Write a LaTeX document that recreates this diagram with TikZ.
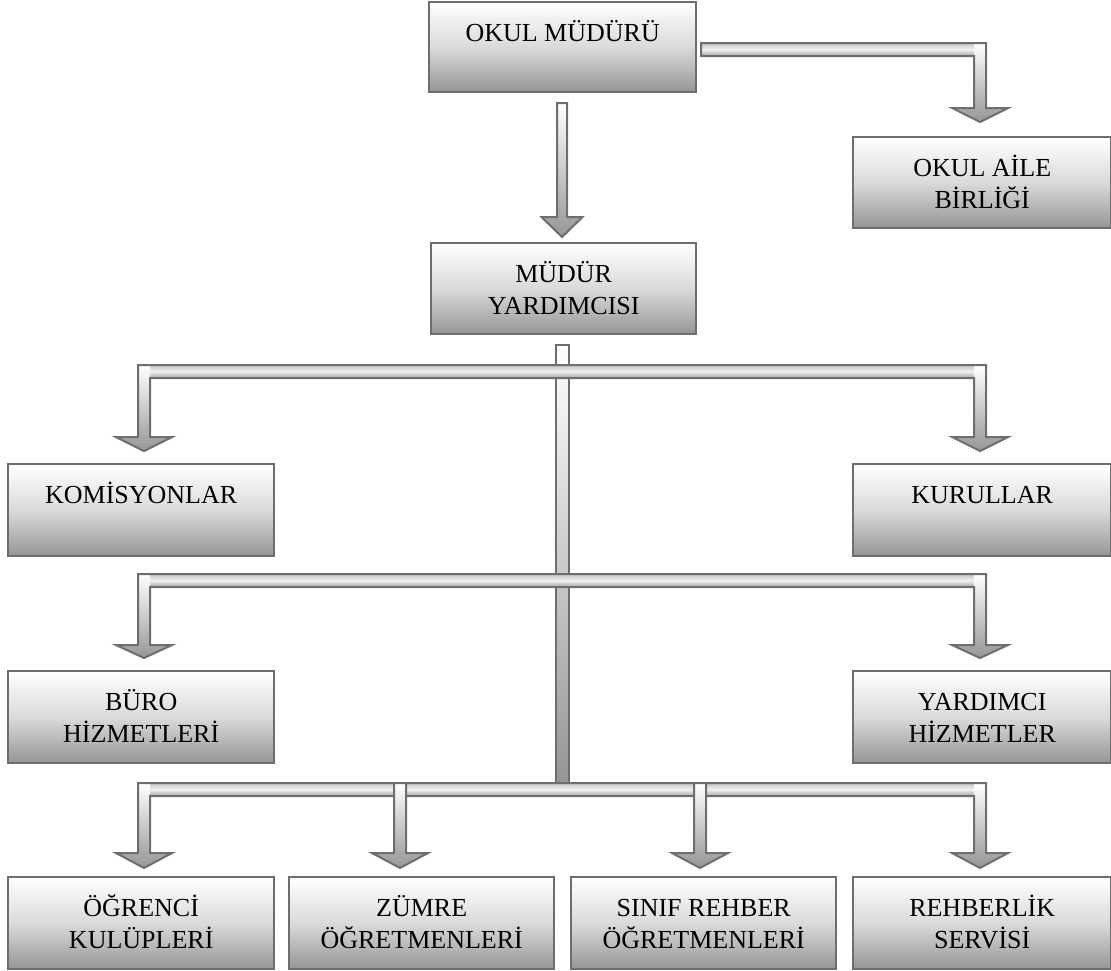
\documentclass[tikz,border=0pt]{standalone}
\usepackage{fontspec}
\setmainfont{Liberation Serif}
\definecolor{edge}{HTML}{6E6E6E}
\definecolor{boxbot}{HTML}{959595}
\definecolor{boxmid}{HTML}{DADADA}
\definecolor{shaftbot}{HTML}{969696}
\definecolor{bartop}{HTML}{C4C4C4}
\definecolor{barmid}{HTML}{F2F2F2}
\definecolor{barbot}{HTML}{A2A2A2}
\tikzset{
  orgbox/.style={draw=edge, line width=2.4pt, inner sep=0pt,
    top color=white, bottom color=boxbot, middle color=boxmid,
    font=\fontsize{26}{32}\selectfont, anchor=north west},
  shaftfill/.style={top color=white, bottom color=shaftbot},
  barfill/.style={top color=bartop, bottom color=barbot, middle color=barmid},
  arrowline/.style={draw=edge, line width=2pt, line join=miter},
}
% box: name, x1, y1, x2, y2, text
\newcommand{\orgnode}[6]{%
  \node[orgbox] (#1) at (#2,#3)
  {\parbox[c][\dimexpr #5pt-#3pt\relax][t]{\dimexpr #4pt-#2pt\relax}{\centering\rule{0pt}{39pt}#6}};}
% arrow polygon: cx, ytop, yhead, ytip, half shaft, half head
\newcommand{\arrpath}[6]{(#1-#5,#2) -- (#1+#5,#2) -- (#1+#5,#3) -- (#1+#6,#3) -- (#1,#4) -- (#1-#6,#3) -- (#1-#5,#3) -- cycle}
\newcommand{\fillarrow}[6]{\path[shaftfill] \arrpath{#1}{#2}{#3}{#4}{#5}{#6};}
\newcommand{\fullarrow}[6]{\path[shaftfill, arrowline] \arrpath{#1}{#2}{#3}{#4}{#5}{#6};}
% elbow bar row: ytop, ybot, yhead, ytip
\newcommand{\barrow}[4]{%
  \path[barfill] (150,#1) rectangle (974,#2);
  \fillarrow{144}{#1}{#3}{#4}{6}{28}
  \fillarrow{980}{#1}{#3}{#4}{6}{28}
  \draw[arrowline] (138,#1) -- (986,#1) -- (986,#3) -- (1008,#3) -- (980,#4) -- (952,#3)
     -- (974,#3) -- (974,#2) -- (150,#2) -- (150,#3) -- (172,#3) -- (144,#4) -- (116,#3)
     -- (138,#3) -- cycle;}
\begin{document}
\begin{tikzpicture}[x=1pt,y=-1pt]
\useasboundingbox (0,0) rectangle (1111,970);

% boxes
\orgnode{mudur}{428}{1}{695}{91}{OKUL MÜDÜRÜ}
\orgnode{aile}{852}{136}{1110}{227}{OKUL AİLE\\BİRLİĞİ}
\orgnode{yard}{430}{242}{695}{333}{MÜDÜR\\YARDIMCISI}
\orgnode{kom}{7}{463}{273}{555}{KOMİSYONLAR}
\orgnode{kur}{852}{463}{1110}{555}{KURULLAR}
\orgnode{buro}{7}{670}{273}{762}{BÜRO\\HİZMETLERİ}
\orgnode{yrdh}{852}{670}{1110}{762}{YARDIMCI\\HİZMETLER}
\orgnode{ogr}{7}{876}{273}{968}{ÖĞRENCİ\\KULÜPLERİ}
\orgnode{zum}{288}{876}{553}{968}{ZÜMRE\\ÖĞRETMENLERİ}
\orgnode{sinif}{570}{876}{835}{968}{SINIF REHBER\\ÖĞRETMENLERİ}
\orgnode{rehb}{852}{876}{1110}{968}{REHBERLİK\\SERVİSİ}

% OKUL MUDURU -> MUDUR YARDIMCISI
\fullarrow{562}{103}{217}{237}{5}{20.5}

% OKUL MUDURU -> OKUL AILE BIRLIGI
\path[barfill] (701,43) rectangle (974,56);
\fillarrow{980}{43}{108}{122}{6}{28}
\draw[arrowline] (701,43) -- (986,43) -- (986,108) -- (1008,108) -- (980,122) -- (952,108)
   -- (974,108) -- (974,56) -- (701,56) -- cycle;

% central bus
\path[shaftfill, arrowline] (556,345) rectangle (569,783);

% branch rows
\barrow{365}{378}{437}{451}
\barrow{574}{587}{645}{658}
\barrow{783}{796}{853}{868}

% middle arrows of bottom row
\fullarrow{400}{783}{853}{868}{6}{28}
\fullarrow{700}{783}{853}{868}{6}{28}
\end{tikzpicture}
\end{document}
